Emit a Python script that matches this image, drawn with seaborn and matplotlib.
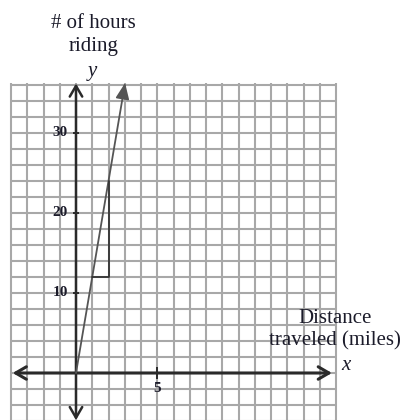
import matplotlib
matplotlib.use("Agg")
import matplotlib.pyplot as plt
from matplotlib.patches import ArrowStyle
import numpy as np
import pandas as pd
import seaborn as sns

# Ride: hours of riding against distance traveled
distance = [0, 3]
hours = [0, 36]

# Slope triangle (run then rise)
tri_x = [1, 2, 2]
tri_y = [12, 12, 24]

y_ticks = [10, 20, 30]
y_tick_labels = ["10", "20", "30"]
x_ticks = [5]
x_tick_labels = ["5"]

# Grid extent
grid_x = list(range(-4, 17))
grid_y = list(range(-6, 37, 2))

sns.set_style("white")
plt.rcParams["font.family"] = ["Liberation Serif", "DejaVu Serif"]

fig = plt.figure(figsize=(4.03, 4.20), dpi=100)
ax = fig.add_axes([0, 0, 1, 1])
ax.set_xlim(-76 / 16.25, (403 - 76) / 16.25)
ax.set_ylim((373 - 420) / 8, 373 / 8)
ax.axis("off")

grid_col = "#a8a8a8"
ax.vlines(grid_x, grid_y[0], grid_y[-1] + 0.2, color=grid_col, lw=1.5, zorder=1)
ax.hlines(grid_y, grid_x[0], grid_x[-1], color=grid_col, lw=1.5, zorder=1)

axis_col = "#2a2a2a"
open_head = ArrowStyle("<->", head_length=0.55, head_width=0.32)
ax.annotate("", xy=(0, 36.2), xytext=(0, -5.9),
            arrowprops=dict(arrowstyle=open_head, lw=1.8, color=axis_col,
                            mutation_scale=14, shrinkA=0, shrinkB=0), zorder=3)
ax.annotate("", xy=(15.75, 0), xytext=(-3.9, 0),
            arrowprops=dict(arrowstyle=open_head, lw=2.2, color=axis_col,
                            mutation_scale=14, shrinkA=0, shrinkB=0), zorder=3)

# Tick marks
ax.hlines(y_ticks, -0.2, 0.2, color=axis_col, lw=1.4, zorder=3)
ax.vlines(x_ticks, -0.7, 0.7, color=axis_col, lw=1.4, zorder=3)

# The graph line
df = pd.DataFrame({"distance": distance, "hours": hours})
sns.lineplot(data=df, x="distance", y="hours", ax=ax, color="#555555",
             lw=1.3, zorder=4, legend=False)
ax.annotate("", xy=(distance[-1] + 0.02, hours[-1] + 0.25),
            xytext=(distance[-1] - 0.1, hours[-1] - 1.2),
            arrowprops=dict(arrowstyle=ArrowStyle("-|>", head_length=0.7, head_width=0.3),
                            color="#555555", lw=1.2, mutation_scale=14,
                            shrinkA=0, shrinkB=0), zorder=4)

# Slope triangle
ax.plot(tri_x, tri_y, color="#333333", lw=1.3, zorder=4)

txt = "#1b1b2a"
for v, lab in zip(y_ticks, y_tick_labels):
    ax.text(-0.5, v, lab, ha="right", va="center", fontsize=11, color=txt,
            fontweight="bold", zorder=5)
for v, lab in zip(x_ticks, x_tick_labels):
    ax.text(v, -1.9, lab, ha="center", va="center", fontsize=11, color=txt,
            fontweight="bold", zorder=5)

ax.text(1.05, 42.2, "# of hours\nriding", ha="center", va="center",
        fontsize=15, color=txt, linespacing=1.3)
ax.text(0.98, 37.7, "y", ha="center", va="center", fontsize=15,
        style="italic", color=txt)
ax.text(15.95, 5.4, "Distance\ntraveled (miles)", ha="center", va="center",
        fontsize=15, color=txt, linespacing=1.2)
ax.text(16.6, 1.0, "x", ha="center", va="center", fontsize=15,
        style="italic", color=txt)

fig.savefig("out.png", dpi=100)
